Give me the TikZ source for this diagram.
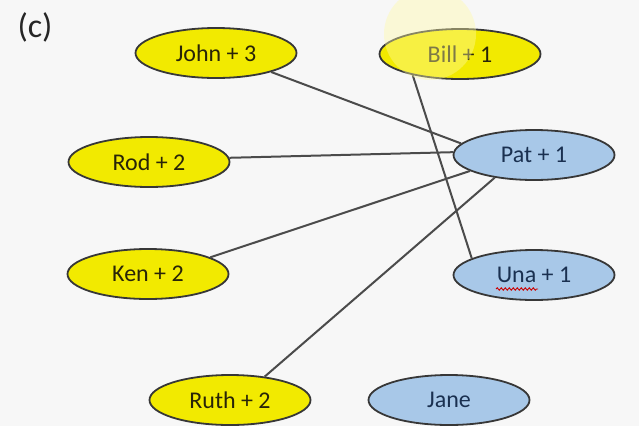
\documentclass[tikz,border=0pt]{standalone}
\usepackage{fontspec}
\setmainfont{Carlito}
\usetikzlibrary{shapes.geometric,decorations.pathmorphing}
\definecolor{bg}{RGB}{247,247,247}
\definecolor{yfill}{RGB}{242,234,0}
\definecolor{bfill}{RGB}{168,200,232}
\definecolor{edge}{RGB}{55,55,55}
\definecolor{link}{RGB}{75,75,75}
\definecolor{ytext}{RGB}{40,36,8}
\definecolor{btext}{RGB}{26,48,80}
\begin{document}
\begin{tikzpicture}[x=1pt,y=-1pt,
  person/.style={ellipse, draw=edge, line width=1.8pt, minimum width=161pt,
    minimum height=50pt, inner sep=0pt, font=\fontsize{24}{28}\selectfont},
  yperson/.style={person, fill=yfill, text=ytext},
  bperson/.style={person, fill=bfill, text=btext},
  link/.style={draw=link, line width=2pt}]
  \useasboundingbox[fill=bg] (0,0) rectangle (639,426);

  \node[font=\fontsize{34}{38}\selectfont, text=black!85] (label) at (35,27) {(c)};

  % left column (yellow)
  \node[yperson] (john) at (216,53)  {John + 3};
  \node[yperson] (rod)  at (149,162) {Rod + 2};
  \node[yperson] (ken)  at (148,274) {Ken + 2};
  \node[yperson] (ruth) at (230,400) {Ruth + 2};
  \node[yperson] (bill) at (460,54)  {Bill + 1};

  % right column (blue)
  \node[bperson] (pat)  at (534,155) {Pat + 1};
  \node[bperson] (una)  at (534,275) {Una + 1};
  \node[bperson] (jane) at (449,400) {Jane};

  % spell-check squiggle under "Una"
  \coordinate (sqA) at (496,289);
  \coordinate (sqB) at (538,289);
  \draw[red!80!black, line width=0.9pt,
    decoration={snake, amplitude=1.2pt, segment length=4pt}, decorate]
    (sqA) -- (sqB);

  % links
  \draw[link] (john.341) -- (pat.171.8);
  \draw[link] (rod.3)    -- (pat.178.5);
  \draw[link] (ken.15)   -- (pat.194.5);
  \draw[link] (ruth.34)  -- (pat.210.7);
  \draw[link] (bill.204) -- (una.165.5);

  % pointer highlight over Bill
  \fill[yellow!35!white, opacity=0.4] (430,34) circle (46);
\end{tikzpicture}
\end{document}
